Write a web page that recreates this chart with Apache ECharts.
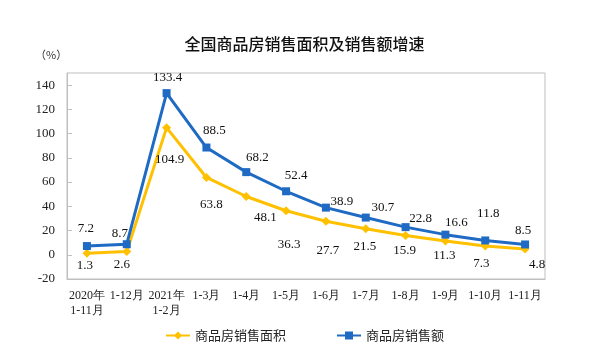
<!DOCTYPE html>
<html><head><meta charset="utf-8">
<script src="https://cdn.jsdelivr.net/npm/echarts@6/dist/echarts.min.js"></script>
<style>html,body{margin:0;padding:0;background:#fff}#c{width:609px;height:361px}</style>
</head><body><div id="c"></div>
<script>
var categories = ['2020年\n1-11月','1-12月','2021年\n1-2月','1-3月','1-4月','1-5月','1-6月','1-7月','1-8月','1-9月','1-10月','1-11月'];
var areaGrowth = [1.3, 2.6, 104.9, 63.8, 48.1, 36.3, 27.7, 21.5, 15.9, 11.3, 7.3, 4.8];
var salesGrowth = [7.2, 8.7, 133.4, 88.5, 68.2, 52.4, 38.9, 30.7, 22.8, 16.6, 11.8, 8.5];
var seriesNames = ['商品房销售面积', '商品房销售额'];

// label offsets (styling only)
var areaLabelOffsets = [[-2,12],[-5,13],[3,32],[5,27],[19,21],[3,34],[2,29],[-1,18],[-1,15],[-1,15],[-4,18],[12,16]];
var salesLabelOffsets = [[-1,-17],[-7,-11],[1,-16],[8,-17],[11,-15],[10,-16],[16,-6],[17,-10],[15,-9],[11,-12],[3,-27],[-2,-14]];

function withLabels(vals, offs){
  return vals.map(function(v,i){
    return {value:v, label:{offset:offs[i]}};
  });
}
var serif = '"Liberation Serif","DejaVu Serif",serif';
var chart = echarts.init(document.getElementById('c'));
chart.setOption({
  animation:false,
  title:{text:'全国商品房销售面积及销售额增速', left:'center', top:31,
    textStyle:{fontFamily:'"Noto Sans CJK SC"', fontSize:16, fontWeight:500, color:'#111'}},
  graphic:[{type:'text', left:35, top:49, style:{text:'（%）', fontFamily:'"Noto Sans CJK SC"', fontSize:11, fill:'#333'}}],
  grid:{left:67, right:64, top:73, bottom:82, show:true, borderColor:'#bfbfbf', borderWidth:1},
  legend:{bottom:14, left:'center', itemGap:50, itemWidth:24, itemHeight:10,
    textStyle:{fontFamily:'"Noto Sans CJK SC"', fontSize:13, color:'#222'},
    data:seriesNames},
  xAxis:{type:'category', data:categories, boundaryGap:true,
    axisLine:{onZero:false, lineStyle:{color:'#bfbfbf'}},
    axisTick:{inside:true, length:5, lineStyle:{color:'#bfbfbf'}},
    axisLabel:{interval:0, margin:9, fontFamily:serif, fontSize:12, color:'#222', lineHeight:15, align:'center'}},
  yAxis:{type:'value', min:-20, max:150, interval:20,
    axisLine:{show:true, lineStyle:{color:'#bfbfbf'}},
    axisTick:{show:true, inside:true, length:5, lineStyle:{color:'#bfbfbf'}},
    splitLine:{show:false},
    axisLabel:{showMaxLabel:false, margin:12, fontFamily:serif, fontSize:13, color:'#222',
      formatter:function(v){return v>140?'':v;}}},
  series:[
    {name:seriesNames[0], type:'line', data:withLabels(areaGrowth, areaLabelOffsets),
      symbol:'diamond', symbolSize:9, color:'#FFC000',
      lineStyle:{width:3, color:'#FFC000'}, itemStyle:{color:'#FFC000'},
      label:{show:true, position:'inside', fontFamily:serif, fontSize:13, color:'#111'}},
    {name:seriesNames[1], type:'line', data:withLabels(salesGrowth, salesLabelOffsets),
      symbol:'rect', symbolSize:8, color:'#1F6BC4',
      lineStyle:{width:3, color:'#1F6BC4'}, itemStyle:{color:'#1F6BC4'},
      label:{show:true, position:'inside', fontFamily:serif, fontSize:13, color:'#111'}}
  ]
});
</script></body></html>
